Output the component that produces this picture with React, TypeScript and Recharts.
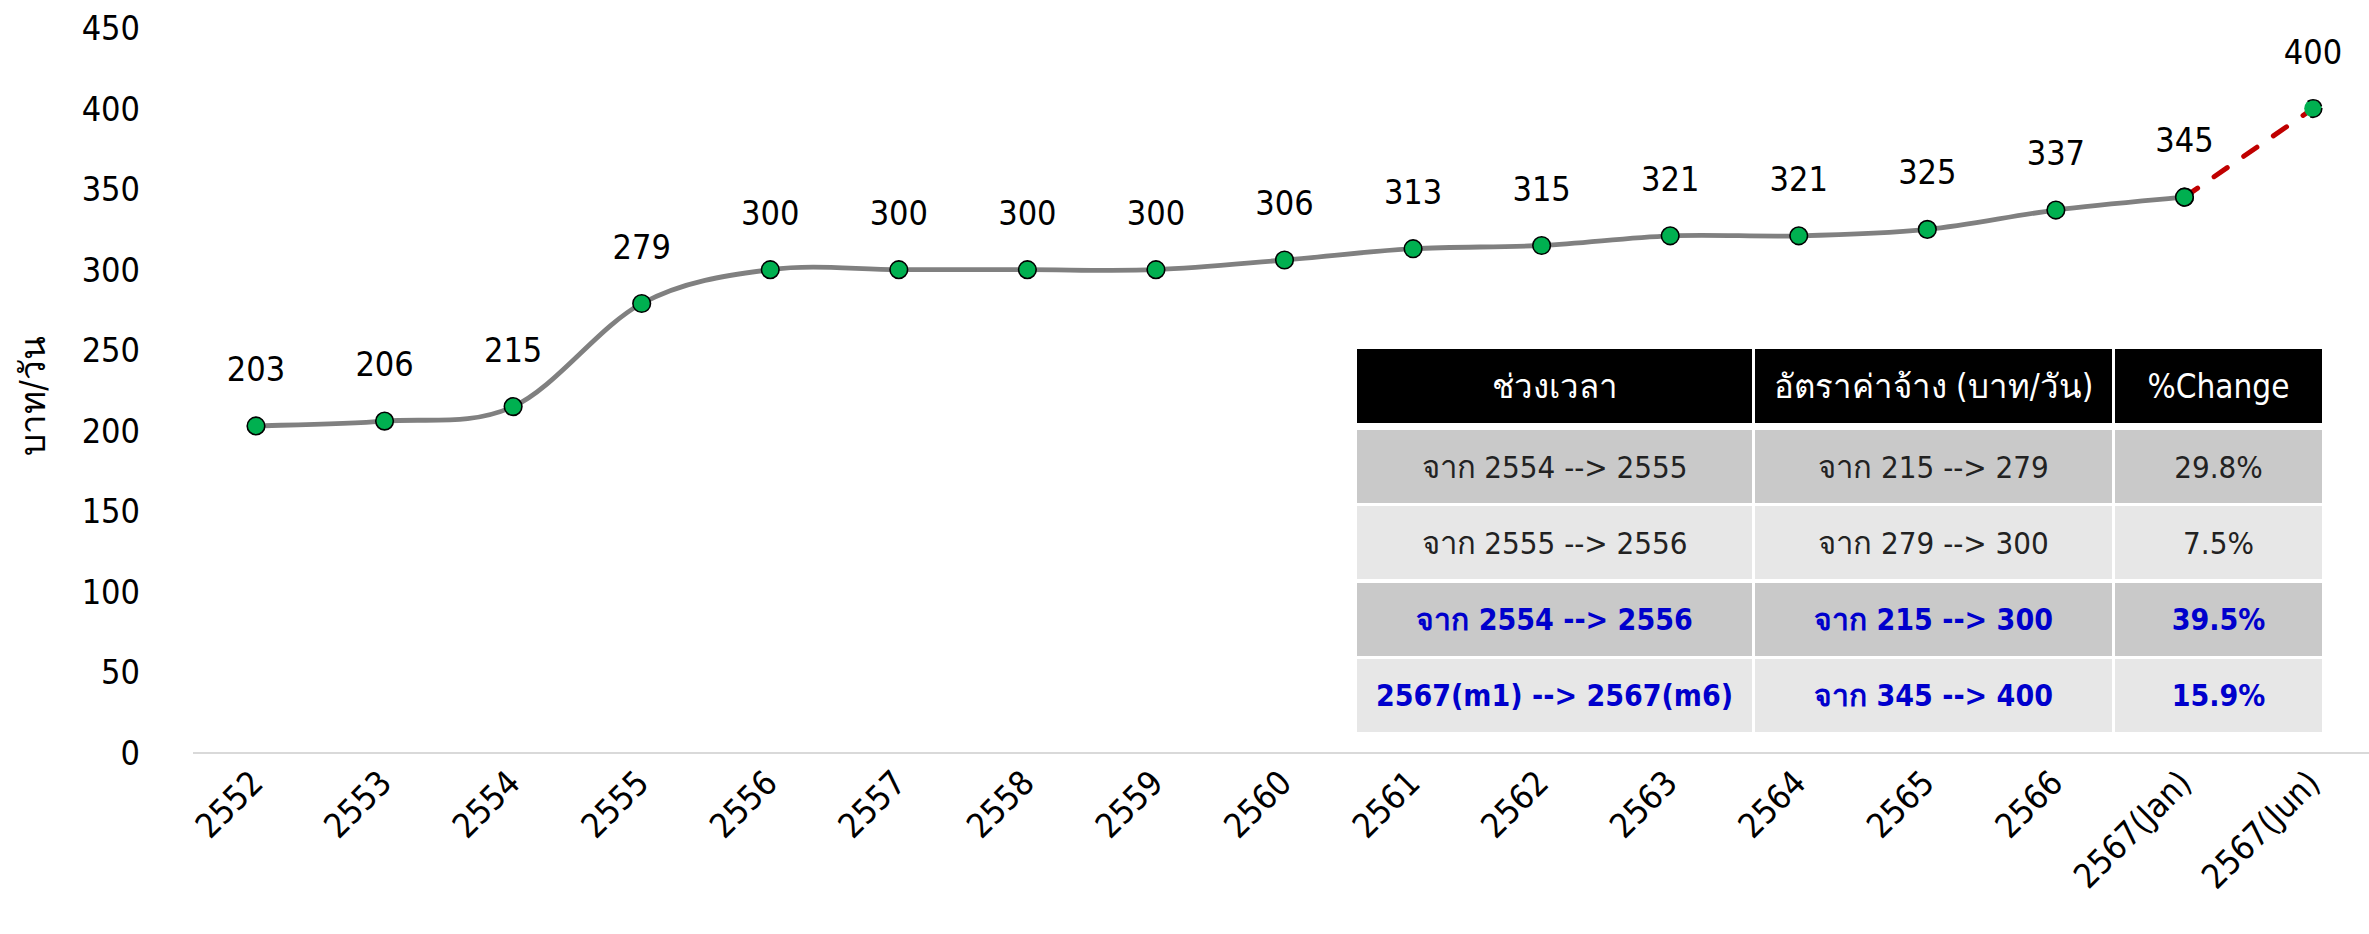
import React from 'react';
import { LineChart, Line, XAxis, YAxis, LabelList } from 'recharts';

const categories = ['2552', '2553', '2554', '2555', '2556', '2557', '2558', '2559', '2560', '2561', '2562', '2563', '2564', '2565', '2566', '2567(Jan)', '2567(Jun)'];
const wages = [203, 206, 215, 279, 300, 300, 300, 300, 306, 313, 315, 321, 321, 325, 337, 345, 400];
const yTicks = [0, 50, 100, 150, 200, 250, 300, 350, 400, 450];
const yAxisTitle = 'บาท/วัน';

const tableHeader = ['ช่วงเวลา', 'อัตราค่าจ้าง (บาท/วัน)', '%Change'];
const tablePeriods = ['จาก 2554 --> 2555', 'จาก 2555 --> 2556', 'จาก 2554 --> 2556', '2567(m1) --> 2567(m6)'];
const tableRates = ['จาก 215 --> 279', 'จาก 279 --> 300', 'จาก 215 --> 300', 'จาก 345 --> 400'];
const tableChanges = ['29.8%', '7.5%', '39.5%', '15.9%'];
const tableHighlight = [false, false, true, true];

const lastActual = 15;
const data = categories.map((c, i) => ({
  year: c,
  actual: i <= lastActual ? wages[i] : null,
  proj: i >= lastActual ? wages[i] : null,
}));

const FONT = "'DejaVu Sans Condensed', 'DejaVu Sans', sans-serif";
const TFONT = "'Liberation Sans Narrow', 'DejaVu Sans Condensed', sans-serif";

// Excel-like smoothing (Catmull-Rom Bezier)
function excelSmooth(context: any) {
  let pts: number[][] = [];
  return {
    areaStart() {},
    areaEnd() {},
    lineStart() {
      pts = [];
    },
    point(x: number, y: number) {
      pts.push([+x, +y]);
    },
    lineEnd() {
      const n = pts.length;
      if (!n) return;
      context.moveTo(pts[0][0], pts[0][1]);
      for (let i = 0; i < n - 1; i++) {
        const p0 = pts[i - 1] || pts[i];
        const p1 = pts[i];
        const p2 = pts[i + 1];
        const p3 = pts[i + 2] || p2;
        context.bezierCurveTo(
          p1[0] + (p2[0] - p0[0]) / 6,
          p1[1] + (p2[1] - p0[1]) / 6,
          p2[0] - (p3[0] - p1[0]) / 6,
          p2[1] - (p3[1] - p1[1]) / 6,
          p2[0],
          p2[1]
        );
      }
    },
  };
}

const XTick = (props: any) => {
  const { x, y, payload } = props;
  const tx = x + 9;
  const ty = y + 32;
  return (
    <text x={tx} y={ty} transform={`rotate(-45 ${tx} ${ty})`} textAnchor="end" fontSize={34} fill="#000" fontFamily={FONT}>
      {payload.value}
    </text>
  );
};

const YTick = (props: any) => {
  const { x, y, payload } = props;
  return (
    <text x={x} y={y} dy={12} textAnchor="end" fontSize={34} fill="#000" fontFamily={FONT}>
      {payload.value}
    </text>
  );
};

const makeLabel = (skip: number | null) => (props: any) => {
  const { x, y, value, index } = props;
  if (value == null || (skip !== null && index === skip)) return null;
  return (
    <text x={x} y={y - 45} textAnchor="middle" fontSize={34} fill="#000" fontFamily={FONT}>
      {value}
    </text>
  );
};

const dotStyle = { r: 8.8, fill: '#00B050', stroke: '#000', strokeWidth: 1.6 };

const rowTops = [430, 506, 583, 659];
const rowH = 73;
const colLefts = [1357, 1755, 2115];
const colWidths = [395, 357, 207];

export default function App() {
  const cellBase: React.CSSProperties = {
    position: 'absolute',
    display: 'flex',
    alignItems: 'center',
    justifyContent: 'center',
    fontFamily: TFONT,
    fontSize: 31,
    whiteSpace: 'nowrap',
  };
  const rows = [tablePeriods, tableRates, tableChanges];
  return (
    <div style={{ position: 'absolute', left: 0, top: 0, width: 2369, height: 934, background: '#fff', overflow: 'hidden' }}>
      <LineChart width={2369} height={934} data={data} margin={{ top: 28, right: 0, bottom: 0, left: 0 }}>
        <XAxis
          dataKey="year"
          interval={0}
          padding={{ left: 63, right: 56 }}
          tick={<XTick />}
          tickLine={false}
          tickSize={0}
          tickMargin={0}
          axisLine={{ stroke: '#D9D9D9', strokeWidth: 2 }}
          height={181}
        />
        <YAxis
          domain={[0, 450]}
          ticks={yTicks}
          interval={0}
          width={193}
          axisLine={false}
          tickLine={false}
          tickSize={0}
          tickMargin={53}
          tick={<YTick />}
          label={{
            value: yAxisTitle,
            content: () => (
              <text x={33} y={396} dy={12} transform="rotate(-90 33 396)" textAnchor="middle" fontSize={35} fill="#000" fontFamily={FONT}>
                {yAxisTitle}
              </text>
            ),
          }}
        />
        <Line
          dataKey="proj"
          type="linear"
          stroke="#C00000"
          strokeWidth={5}
          strokeDasharray="16 20"
          strokeLinecap="round"
          dot={dotStyle}
          activeDot={false}
          isAnimationActive={false}
        >
          <LabelList dataKey="proj" content={makeLabel(lastActual)} />
        </Line>
        <Line
          dataKey="actual"
          type={excelSmooth as any}
          stroke="#808080"
          strokeWidth={4.8}
          dot={dotStyle}
          activeDot={false}
          isAnimationActive={false}
        >
          <LabelList dataKey="actual" content={makeLabel(null)} />
        </Line>
      </LineChart>
      {/* table */}
      {tableHeader.map((h, c) => (
        <div
          key={'h' + c}
          style={{ ...cellBase, fontSize: 33, left: colLefts[c], top: 349, width: colWidths[c], height: 74, background: '#000', color: '#fff' }}
        >
          {h}
        </div>
      ))}
      {rowTops.map((t, r) =>
        rows.map((col, c) => (
          <div
            key={'c' + r + '-' + c}
            style={{
              ...cellBase,
              fontSize: tableHighlight[r] ? 30 : 31,
              left: colLefts[c],
              top: t,
              width: colWidths[c],
              height: rowH,
              background: r % 2 === 0 ? '#C9C9C9' : '#E7E7E7',
              color: tableHighlight[r] ? '#0000CC' : '#222',
              fontWeight: tableHighlight[r] ? 'bold' : 'normal',
            }}
          >
            {col[r]}
          </div>
        ))
      )}
    </div>
  );
}
